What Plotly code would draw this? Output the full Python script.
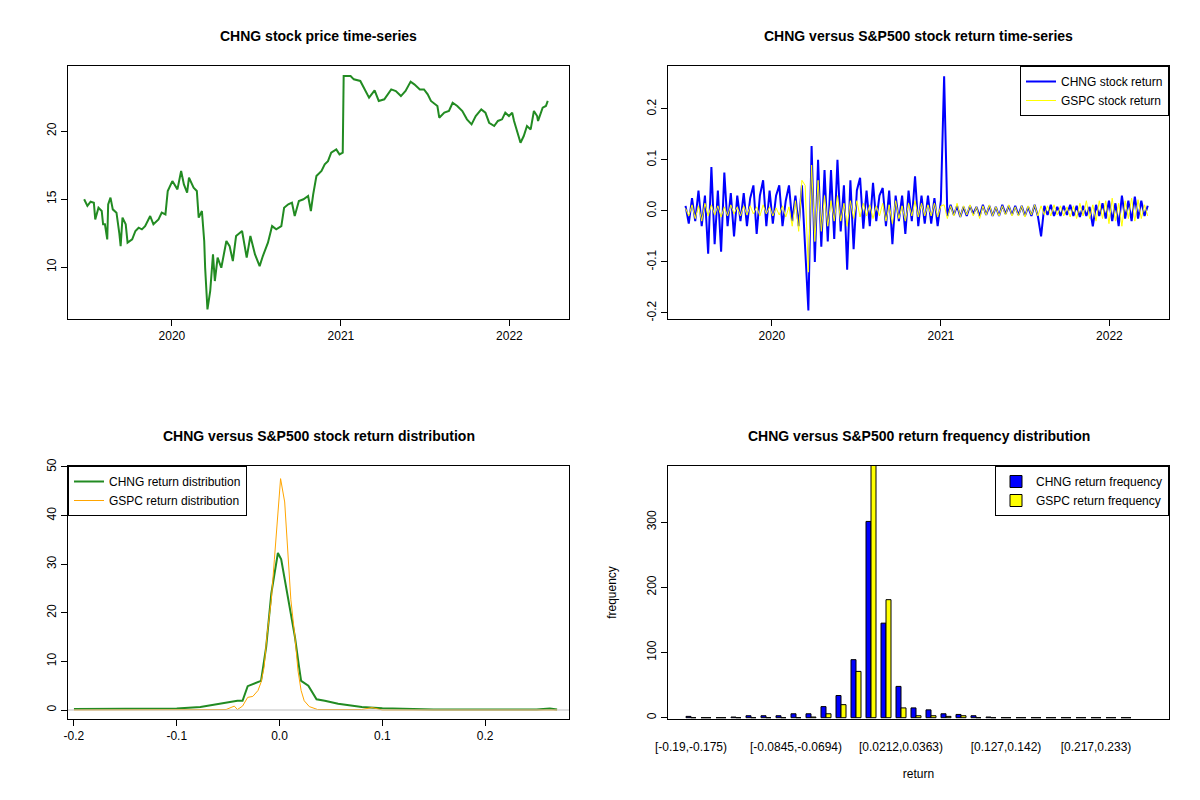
import plotly.graph_objects as go
import pandas as pd

# ---------- Panel 1: CHNG price ----------
price_dates = ["2019-06-25","2019-07-02","2019-07-09","2019-07-16","2019-07-19","2019-07-26","2019-08-02","2019-08-05","2019-08-09","2019-08-14","2019-08-16","2019-08-21","2019-08-26","2019-09-03","2019-09-09","2019-09-12","2019-09-16","2019-09-23","2019-09-27","2019-10-07","2019-10-14","2019-10-21","2019-10-28","2019-11-04","2019-11-15","2019-11-22","2019-12-03","2019-12-10","2019-12-18","2019-12-23",
"2020-01-02","2020-01-13","2020-01-21","2020-01-27","2020-02-03","2020-02-07","2020-02-17","2020-02-24","2020-02-28","2020-03-06","2020-03-11","2020-03-13","2020-03-18","2020-03-24","2020-03-30","2020-04-03","2020-04-09","2020-04-17","2020-04-28","2020-05-05","2020-05-12","2020-05-19","2020-06-01","2020-06-11","2020-06-19","2020-06-29","2020-07-09","2020-07-16","2020-07-27","2020-08-05","2020-08-14","2020-08-25","2020-08-31","2020-09-09","2020-09-17","2020-09-23","2020-10-02","2020-10-12","2020-10-22","2020-10-28","2020-11-02","2020-11-09","2020-11-20","2020-11-27","2020-12-04","2020-12-11","2020-12-22","2020-12-29",
"2021-01-05","2021-01-07","2021-01-22","2021-01-29","2021-02-12","2021-02-24","2021-03-03","2021-03-15","2021-03-24","2021-04-05","2021-04-20","2021-04-30","2021-05-11","2021-05-21","2021-06-01","2021-06-09","2021-06-21","2021-06-30","2021-07-08","2021-07-15","2021-07-29","2021-08-02","2021-08-13","2021-08-23","2021-08-31","2021-09-10","2021-09-21","2021-10-01","2021-10-11","2021-10-20","2021-11-01","2021-11-10","2021-11-18","2021-11-29","2021-12-07","2021-12-16","2021-12-23","2021-12-31",
"2022-01-07","2022-01-11","2022-01-18","2022-01-25","2022-02-01","2022-02-08","2022-02-16","2022-02-23","2022-03-02","2022-03-04","2022-03-14","2022-03-21","2022-03-25"]
price_values = [14.98,14.49,14.80,14.73,13.50,14.36,14.12,13.14,13.14,12.03,14.61,15.10,14.24,14.00,12.52,11.54,13.63,13.14,11.79,12.03,12.65,12.89,12.77,13.01,13.75,13.14,13.50,14.00,13.87,15.59,
16.32,15.71,17.06,16.08,15.47,16.57,15.83,15.59,13.63,14.12,11.91,9.95,6.89,8.24,10.93,8.97,10.69,9.95,11.91,11.54,10.44,12.28,12.65,10.69,12.28,10.93,10.07,10.81,11.79,13.01,12.77,13.01,14.36,14.61,14.73,13.75,14.85,14.98,15.22,14.12,15.34,16.69,17.06,17.55,17.79,18.41,18.65,18.28,
18.41,24.04,24.04,23.80,23.68,22.94,22.45,22.99,22.21,22.33,23.06,22.94,22.57,22.94,23.63,23.43,23.06,23.06,22.70,22.21,21.84,20.98,21.35,21.47,22.08,21.84,21.47,20.86,20.49,21.10,21.59,21.35,20.61,20.37,20.74,20.86,21.35,21.10,
21.35,20.74,20.00,19.14,19.63,20.37,20.12,21.47,21.10,20.74,21.72,21.84,22.21]

# ---------- Panel 2: weekly returns ----------
ret_dates = pd.date_range("2019-06-28", periods=144, freq="7D")
chng_ret = [0.01,-0.025,0.025,-0.02,0.04,-0.03,0.03,-0.084,0.086,-0.065,0.04,-0.08,0.075,-0.03,0.035,-0.05,0.03,-0.02,0.035,-0.03,
0.025,0.05,-0.045,0.03,0.06,-0.03,0.04,-0.025,0.03,0.05,-0.03,0.02,0.05,-0.02,0.03,-0.03,0.05,-0.07,-0.195,0.127,
-0.1,0.1,-0.07,0.08,-0.06,0.08,-0.055,0.1,-0.04,0.05,-0.115,0.06,-0.075,0.04,0.065,-0.035,0.04,-0.03,0.055,-0.02,
0.03,0.045,-0.03,0.04,-0.065,0.03,-0.02,0.03,-0.045,0.04,-0.02,0.068,-0.03,0.03,-0.025,0.03,-0.025,0.025,-0.03,0.02,
0.264,-0.01,0.012,-0.008,0.01,-0.012,0.008,-0.01,0.01,-0.006,0.008,-0.01,0.012,-0.008,0.01,-0.01,0.008,-0.01,0.012,-0.006,
0.01,-0.008,0.01,-0.008,0.01,-0.01,0.008,-0.01,0.012,-0.01,-0.05,0.01,-0.008,0.012,-0.01,0.008,-0.01,0.01,-0.008,0.012,
-0.01,0.01,-0.012,0.01,-0.01,0.008,-0.03,0.012,-0.01,0.015,-0.015,0.02,-0.02,0.015,-0.03,0.03,-0.015,0.02,-0.02,0.028,
-0.015,0.02,-0.01,0.01]
gspc_ret = [0.005,-0.01,0.012,-0.015,0.01,-0.02,0.015,-0.01,0.012,-0.008,0.01,-0.012,0.008,-0.01,0.012,-0.006,0.008,-0.01,0.01,-0.008,
0.01,-0.006,0.008,-0.01,0.012,-0.006,0.008,-0.01,0.006,-0.008,0.01,-0.012,0.008,-0.03,0.02,-0.04,0.06,0.05,-0.12,0.09,
-0.06,0.06,-0.04,0.03,-0.03,0.02,-0.02,0.03,-0.02,0.015,-0.03,0.02,-0.015,0.02,-0.012,0.015,-0.01,0.012,-0.015,0.01,
-0.01,0.015,-0.02,0.012,-0.025,0.02,-0.015,0.01,-0.02,0.015,-0.01,0.02,-0.012,0.015,-0.01,0.012,-0.01,0.015,-0.012,0.01,
0.012,-0.015,0.01,-0.01,0.015,-0.012,0.01,-0.008,0.012,-0.01,0.008,-0.015,0.01,-0.008,0.012,-0.01,0.008,-0.01,0.01,-0.008,
0.012,-0.01,0.008,-0.01,0.01,-0.012,0.01,-0.008,0.012,-0.01,0.01,-0.008,0.01,-0.01,0.012,-0.008,0.01,-0.01,0.008,-0.012,
0.01,-0.015,0.015,-0.01,0.02,-0.015,0.012,-0.02,0.02,-0.015,0.02,-0.025,0.025,-0.02,0.015,-0.03,0.02,-0.015,0.025,-0.02,
0.022,-0.015,0.012,-0.01]

# ---------- Panel 3: densities ----------
chng_dx = [-0.2,-0.15,-0.1,-0.077,-0.054,-0.041,-0.036,-0.031,-0.018,-0.013,-0.008,-0.005,-0.0016,0.0016,0.005,0.01,0.015,0.019,0.021,0.028,0.036,0.044,0.057,0.08,0.1,0.15,0.2,0.25,0.263,0.27]
chng_dy = [0.2,0.2,0.3,0.6,1.5,1.9,1.9,4.9,6,13,24,28,32.3,31,27,20.6,15,8.8,6,5,2.2,1.9,1.3,0.6,0.35,0.1,0.1,0.1,0.3,0.1]
gspc_dx = [-0.2,-0.1,-0.052,-0.044,-0.041,-0.036,-0.031,-0.026,-0.021,-0.018,-0.015,-0.012,-0.008,-0.005,0.001,0.005,0.008,0.011,0.015,0.018,0.021,0.024,0.029,0.037,0.08,0.09,0.1,0.27]
gspc_dy = [0.0,0.05,0.1,0.8,0.1,0.8,2.6,2.8,4,5.7,8.8,15.8,22.7,31,47.6,42.8,33,22.7,15,8,4,1.9,0.7,0.1,0.1,0.5,0.0,0.0]

# ---------- Panel 4: histogram ----------
bin_labels = ["[-0.19,-0.175)","[-0.0845,-0.0694)","[0.0212,0.0363)","[0.127,0.142)","[0.217,0.233)"]
bin_label_index = [1,8,15,22,28]
chng_freq = [2,0,0,1,3,3,3,6,6,17,34,89,301,145,48,15,12,6,5,3,1,0,0,0,0,0,0,0,0,0]
gspc_freq = [0,0,0,0,0,0,0,0,1,6,20,71,440,181,15,3,3,2,3,0,0,0,0,0,0,0,0,0,0,0]

FONT = "Liberation Sans, Arial, sans-serif"
fig = go.Figure()

fig.add_trace(go.Scatter(x=price_dates, y=price_values, mode="lines", line=dict(color="#228B22", width=2),
                         showlegend=False, xaxis="x", yaxis="y"))
fig.add_trace(go.Scatter(x=ret_dates, y=chng_ret, mode="lines", line=dict(color="blue", width=2),
                         name="CHNG stock return", legend="legend", xaxis="x2", yaxis="y2"))
fig.add_trace(go.Scatter(x=ret_dates, y=gspc_ret, mode="lines", line=dict(color="yellow", width=1),
                         name="GSPC stock return", legend="legend", xaxis="x2", yaxis="y2"))
fig.add_trace(go.Scatter(x=chng_dx, y=chng_dy, mode="lines", line=dict(color="#228B22", width=2),
                         name="CHNG return distribution", legend="legend2", xaxis="x3", yaxis="y3"))
fig.add_trace(go.Scatter(x=gspc_dx, y=gspc_dy, mode="lines", line=dict(color="orange", width=1),
                         name="GSPC return distribution", legend="legend2", xaxis="x3", yaxis="y3"))
fig.add_trace(go.Scatter(x=[-0.21, 0.29], y=[0, 0], mode="lines", line=dict(color="#BEBEBE", width=1),
                         showlegend=False, xaxis="x3", yaxis="y3"))

n = len(chng_freq)
blue_x = [3*k - 1.5 for k in range(1, n+1)]
yel_x = [3*k - 0.5 for k in range(1, n+1)]
fig.add_trace(go.Bar(x=blue_x, y=chng_freq, width=1, marker=dict(color="blue", line=dict(color="black", width=1)),
                     name="CHNG return frequency", legend="legend3", xaxis="x4", yaxis="y4"))
fig.add_trace(go.Bar(x=yel_x, y=gspc_freq, width=1, marker=dict(color="yellow", line=dict(color="black", width=1)),
                     name="GSPC return frequency", legend="legend3", xaxis="x4", yaxis="y4"))

ax = dict(showgrid=False, zeroline=False, showline=True, mirror=True, linecolor="black", linewidth=1,
          ticks="outside", ticklen=6, tickcolor="black", tickfont=dict(size=12, color="black"), automargin=False)
DX, DY = -0.005, 0.00875
xl = [0.055 + DX, 0.4725 + DX]; xr = [0.555 + DX, 0.9725 + DX]
yt = [0.6025 + DY, 0.91875 + DY]; yb = [0.1025 + DY, 0.41875 + DY]
drange = ["2019-05-21", "2022-05-10"]
dticks = dict(tickvals=["2020-01-01","2021-01-01","2022-01-01"], ticktext=["2020","2021","2022"])

fig.update_layout(
    width=1200, height=800, paper_bgcolor="white", plot_bgcolor="white",
    font=dict(family=FONT, color="black"), margin=dict(l=0, r=0, t=0, b=0, autoexpand=False), barmode="overlay",
    xaxis=dict(ax, domain=xl, anchor="y", range=drange, **dticks),
    yaxis=dict(ax, domain=yt, anchor="x", range=[6.18, 24.78], tickvals=[10,15,20], tickangle=-90),
    xaxis2=dict(ax, domain=xr, anchor="y2", range=drange, **dticks),
    yaxis2=dict(ax, domain=yt, anchor="x2", range=[-0.2118, 0.284], tickvals=[-0.2,-0.1,0,0.1,0.2],
                ticktext=["-0.2","-0.1","0.0","0.1","0.2"], tickangle=-90),
    xaxis3=dict(ax, domain=xl, anchor="y3", range=[-0.2058, 0.2816], tickvals=[-0.2,-0.1,0,0.1,0.2],
                ticktext=["-0.2","-0.1","0.0","0.1","0.2"]),
    yaxis3=dict(ax, domain=yb, anchor="x3", range=[-1.85, 50.2], tickvals=[0,10,20,30,40,50], tickangle=-90),
    xaxis4=dict(ax, domain=xr, anchor="y4", range=[-2.6, 97.6], ticklen=17, tickcolor="rgba(0,0,0,0)",
                tickvals=[3*k - 1 for k in bin_label_index], ticktext=bin_labels,
                title=dict(text="return", font=dict(size=12), standoff=16)),
    yaxis4=dict(ax, domain=yb, anchor="x4", range=[-2, 386], tickvals=[0,100,200,300], tickangle=-90,
                title=dict(text="frequency", font=dict(size=12), standoff=26)),
    legend=dict(x=xr[1], y=yt[1], xanchor="right", yanchor="top", bordercolor="black", borderwidth=1,
                font=dict(size=12), bgcolor="white", tracegroupgap=0),
    legend2=dict(x=xl[0], y=yb[1], xanchor="left", yanchor="top", bordercolor="black", borderwidth=1,
                 font=dict(size=12), bgcolor="white"),
    legend3=dict(x=xr[1], y=yb[1], xanchor="right", yanchor="top", bordercolor="black", borderwidth=1,
                 font=dict(size=12), bgcolor="white"),
)

titles = [("CHNG stock price time-series", 0.264 + DX, 1 - 35/800 + DY),
          ("CHNG versus S&P500 stock return time-series", 0.764 + DX, 1 - 35/800 + DY),
          ("CHNG versus S&P500 stock return distribution", 0.264 + DX, 1 - 435/800 + DY),
          ("CHNG versus S&P500 return frequency distribution", 0.764 + DX, 1 - 435/800 + DY)]
for t, x, y in titles:
    fig.add_annotation(text="<b>%s</b>" % t.replace("&", "&amp;"), x=x, y=y, xref="paper", yref="paper",
                       showarrow=False, font=dict(size=14, color="black"), xanchor="center", yanchor="middle")

fig.write_html("out.html")
